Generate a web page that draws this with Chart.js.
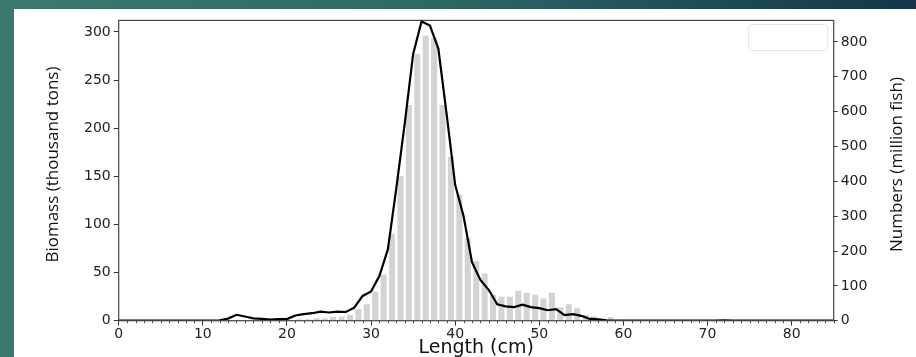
<!DOCTYPE html>
<html>
<head>
<meta charset="utf-8">
<script src="https://cdn.jsdelivr.net/npm/chart.js@4.4.1/dist/chart.umd.min.js"></script>
<style>
  html, body { margin: 0; padding: 0; }
  body {
    width: 916px; height: 357px; overflow: hidden; position: relative;
    background: linear-gradient(to right, #3b7a6f 0%, #2f6a66 45%, #163549 100%);
  }
  #wrap { position: absolute; left: 14px; top: 9px; width: 902px; height: 348px; background: #fff; }
</style>
</head>
<body>
<div id="wrap"><canvas id="grafico" width="902" height="348"></canvas></div>
<script>
// length classes (cm)
const lengths = [];
for (let i = 0; i <= 85; i++) lengths.push(i);

// biomass per length class, thousand tons (bars, left axis)
const biomass = [
  0, 0, 0, 0, 0, 0, 0, 0, 0, 0,
  0, 0, 0.2, 0.4, 0.6, 0.4, 0.3, 0.3, 0.3, 0.4,
  0.6, 1.5, 1.5, 2.5, 2.5, 4, 4, 6, 12, 17,
  30, 48, 90, 150, 224, 277, 296, 294, 224, 170,
  131, 86, 62, 49, 27, 25, 25, 31, 29, 27,
  23, 29, 14, 17, 13, 6, 4.5, 1.5, 3.5, 1,
  0.5, 0, 0, 0, 0, 0, 0, 0, 0, 0,
  0, 0, 0, 0, 0, 0, 0, 0, 0, 0,
  0, 0, 0, 0, 0, 0
];

// numbers per length, million fish (line, right axis)
const numbers = [
  0.5, 0.5, 0.5, 0.5, 0.5, 0.5, 0.5, 0.5, 0.5, 0.5,
  0.5, 0.5, 1, 6, 17, 12, 6.5, 5, 3, 4.5,
  4.5, 15, 19, 21.5, 26, 23.5, 26, 25, 37.5, 71,
  84, 129, 205, 380, 565, 765, 859, 847, 781, 590,
  390, 300, 168, 117, 88, 47, 41, 39, 46, 39,
  36, 30, 33, 16, 19, 14, 5, 4, 1, 0.5,
  0, 0, 0, 0, 0, 0, 0, 0, 0, 0,
  0, 0, 1, 0, 0, 0, 0, 0, 0, 0,
  0, 0, 0, 0, 0, 0
];

const xTicks = [0, 10, 20, 30, 40, 50, 60, 70, 80];
const biomassTicks = [0, 50, 100, 150, 200, 250, 300];
const numbersTicks = [0, 100, 200, 300, 400, 500, 600, 700, 800];

Chart.defaults.font.family = "'DejaVu Sans', sans-serif";
Chart.defaults.color = "#222";

function soTicks(lista) {
  return function (scale) {
    scale.ticks = lista.map(v => ({ value: v }));
  };
}

/* moldura, ticks menores, caixa da legenda e titulos dos eixos y */
const extras = {
  id: "extras",
  afterDatasetsDraw(chart) {
    const { ctx, chartArea: a } = chart;
    const x = chart.scales.x;
    ctx.save();
    ctx.strokeStyle = "#444";
    ctx.lineWidth = 1.2;
    ctx.strokeRect(a.left, a.top, a.right - a.left, a.bottom - a.top);
    ctx.lineWidth = 1;
    ctx.beginPath();
    for (const l of lengths) {
      if (l % 10 === 0) continue;
      const px = Math.round(x.getPixelForValue(l)) + 0.5;
      ctx.moveTo(px, a.bottom);
      ctx.lineTo(px, a.bottom + 2.5);
    }
    ctx.stroke();
    // caixa vazia da legenda
    ctx.strokeStyle = "#e2e2e2";
    ctx.beginPath();
    ctx.roundRect(a.right - 85, a.top + 4, 79, 26, 3);
    ctx.stroke();
    ctx.restore();
  },
  afterDraw(chart) {
    const { ctx, chartArea: a } = chart;
    const cy = (a.top + a.bottom) / 2 - 6;
    const titulos = [[39, "Biomass (thousand tons)"], [883.5, "Numbers (million fish)"]];
    for (const [tx, texto] of titulos) {
      ctx.save();
      ctx.fillStyle = "#111";
      ctx.font = "17px 'Open Sans'";
      ctx.textAlign = "center";
      ctx.textBaseline = "middle";
      ctx.translate(tx, cy);
      ctx.rotate(-Math.PI / 2);
      ctx.fillText(texto, 0, 0);
      ctx.restore();
    }
  }
};

const ctx = document.getElementById("grafico");

new Chart(ctx, {
  type: "bar",
  data: {
    datasets: [
      {
        type: "line",
        data: lengths.map((l, i) => ({ x: l, y: numbers[i] })),
        borderColor: "#000",
        borderWidth: 2.2,
        pointRadius: 0,
        tension: 0,
        yAxisID: "y1",
        order: 0
      },
      {
        type: "bar",
        data: lengths.map((l, i) => ({ x: l + 0.5, y: biomass[i] })),
        backgroundColor: "#d3d3d3",
        barPercentage: 0.72,
        categoryPercentage: 1,
        yAxisID: "y",
        order: 1
      }
    ]
  },
  options: {
    responsive: false,
    animation: false,
    devicePixelRatio: 1,
    layout: { padding: { top: 4, left: 0, right: 0, bottom: 0 } },
    plugins: { legend: { display: false }, tooltip: { enabled: false } },
    scales: {
      x: {
        type: "linear",
        min: 0,
        max: 85,
        offset: false,
        afterBuildTicks: soTicks(xTicks),
        afterFit: s => { s.height = 36.3; },
        grid: { offset: false, drawOnChartArea: false, tickLength: 5, tickColor: "#333" },
        border: { display: false },
        ticks: { padding: 0, maxRotation: 0, autoSkip: false, font: { size: 14 } },
        title: {
          display: true,
          text: "Length (cm)",
          color: "#111",
          font: { size: 19, lineHeight: 0.9 },
          padding: 0
        }
      },
      y: {
        position: "left",
        min: 0,
        max: 312,
        afterBuildTicks: soTicks(biomassTicks),
        afterFit: s => { s.width = 104.7; },
        grid: { drawOnChartArea: false, tickLength: 5, tickColor: "#333" },
        border: { display: false },
        ticks: { padding: 3, font: { size: 14 } }
      },
      y1: {
        position: "right",
        min: 0,
        max: 862,
        afterBuildTicks: soTicks(numbersTicks),
        afterFit: s => { s.width = 82.3; },
        grid: { drawOnChartArea: false, tickLength: 4, tickColor: "#333" },
        border: { display: false },
        ticks: { padding: 3, font: { size: 14 } }
      }
    }
  },
  plugins: [extras]
});
</script>
</body>
</html>
